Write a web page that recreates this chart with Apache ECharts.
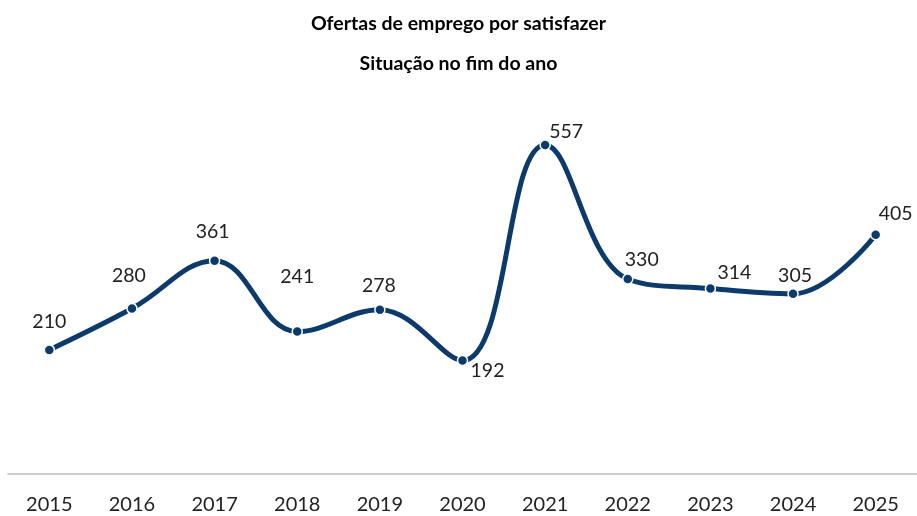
<!DOCTYPE html>
<html>
<head>
<meta charset="utf-8">
<script src="https://cdn.jsdelivr.net/npm/echarts@6/dist/echarts.min.js"></script>
<style>
  html, body { margin: 0; padding: 0; background: #fff; }
  #main { width: 917px; height: 516px; }
</style>
</head>
<body>
<div id="main"></div>
<script>
// anos e valores
var anos = ['2015', '2016', '2017', '2018', '2019', '2020', '2021', '2022', '2023', '2024', '2025'];
var ofertas = [210, 280, 361, 241, 278, 192, 557, 330, 314, 305, 405];
// deslocamento dos rótulos em relação ao ponto [dx, dy]
var rotuloDesl = [[0, -28], [-3, -33], [-2, -29], [0, -55], [-1, -24], [25, 10], [21, -13], [14, -19], [24, -16], [2, -18], [20, -21]];

var dom = document.getElementById('main');
var myChart = echarts.init(dom);
var corLinha = '#0b3a6b';

var dados = [];
for (var i = 0; i < ofertas.length; i++) {
    dados.push({
        value: ofertas[i],
        label: {
            position: 'inside',
            offset: rotuloDesl[i]
        }
    });
}

var option = {
    animation: false,
    title: [{
        text: 'Ofertas de emprego por satisfazer',
        left: 'center',
        top: 9,
        textStyle: { fontFamily: 'Lato', fontWeight: 'bold', fontSize: 19.5, color: '#000' }
    }, {
        text: 'Situação no fim do ano',
        left: 'center',
        top: 49,
        textStyle: { fontFamily: 'Lato', fontWeight: 'bold', fontSize: 19.5, color: '#000' }
    }],
    grid: { left: 8, right: 0, top: 119.5, bottom: 42 },
    xAxis: {
        type: 'category',
        data: anos,
        boundaryGap: true,
        axisLine: { lineStyle: { color: '#bfbfbf', width: 1.5 } },
        axisTick: { show: false },
        axisLabel: { color: '#222', fontFamily: 'Lato', fontSize: 20, margin: 21 }
    },
    yAxis: {
        type: 'value',
        min: 0,
        max: 600,
        show: false,
        splitLine: { show: false }
    },
    series: [{
        type: 'line',
        data: dados,
        smooth: 0.4,
        symbol: 'circle',
        symbolSize: 10,
        lineStyle: { color: corLinha, width: 5 },
        itemStyle: { color: corLinha, borderColor: '#fff', borderWidth: 1.5 },
        label: {
            show: true,
            color: '#222',
            fontFamily: 'Lato',
            fontSize: 19.5
        }
    }]
};

myChart.setOption(option, true);
</script>
</body>
</html>
